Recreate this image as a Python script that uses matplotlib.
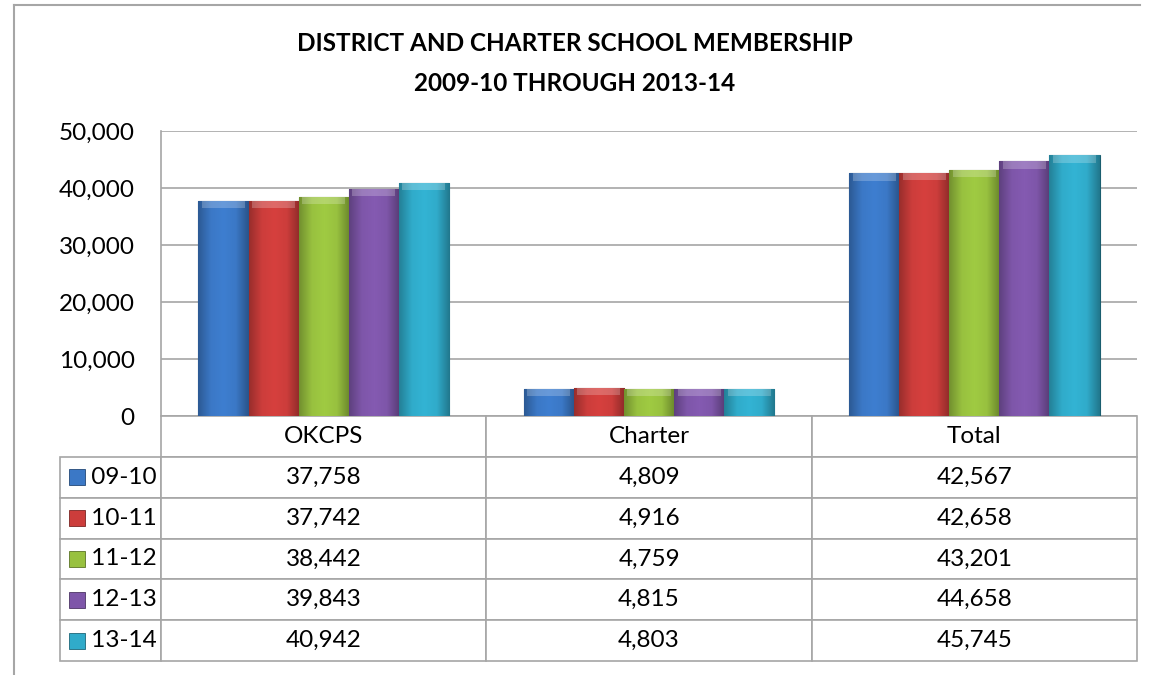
import numpy as np
import matplotlib
matplotlib.use('Agg')
import matplotlib.pyplot as plt
from matplotlib.lines import Line2D
from matplotlib.patches import Rectangle
from matplotlib.colors import LinearSegmentedColormap, to_rgb

plt.rcParams['font.family'] = ['Lato', 'DejaVu Sans']

categories = ['OKCPS', 'Charter', 'Total']
years = ['09-10', '10-11', '11-12', '12-13', '13-14']
okcps = [37758, 37742, 38442, 39843, 40942]
charter = [4809, 4916, 4759, 4815, 4803]
total = [42567, 42658, 43201, 44658, 45745]
colors = ['#3b78c6', '#cc3d3b', '#98c13f', '#7e56a9', '#30abca']

values = np.array([okcps, charter, total]).T  # rows = years


def shade(c, f):
    r = np.array(to_rgb(c))
    return tuple(np.clip(r * f, 0, 1))


fig = plt.figure(figsize=(11.53, 6.75), dpi=100)
ax = fig.add_axes([161/1153, 1 - 416/675, 976/1153, 285/675])

x = np.arange(len(categories))
w = 0.154
grad = np.linspace(0, 1, 64).reshape(1, -1)
for i, yr in enumerate(years):
    bars = ax.bar(x + (i - 2) * w, values[i], width=w, color=colors[i],
                  edgecolor=shade(colors[i], 0.55), linewidth=0.8, zorder=3)
    cmap = LinearSegmentedColormap.from_list(
        'b%d' % i, [shade(colors[i], 0.75), colors[i], shade(colors[i], 1.05),
                    colors[i], shade(colors[i], 0.7)])
    for b in bars:
        x0, h = b.get_x(), b.get_height()
        im = ax.imshow(grad, cmap=cmap, aspect='auto', zorder=3.5,
                       extent=[x0, x0 + w, 0, h])
        im.set_clip_path(b)
    # lighter bevel at the top of each bar
    ax.bar(x + (i - 2) * w, 1300, bottom=values[i] - 1300, width=w * 0.86,
           color='white', alpha=0.22, linewidth=0, zorder=4)

ax.set_xlim(-0.5, 2.5)
ax.set_ylim(0, 50000)
ax.set_yticks(range(0, 50001, 10000))
ax.set_yticklabels(['{:,}'.format(v) for v in range(0, 50001, 10000)])
ax.tick_params(axis='y', length=0, pad=19, labelsize=17.5)
ax.set_xticks([])
ax.grid(axis='y', color='#a6a6a6', linewidth=1.2, zorder=0)
for s in ['top', 'right', 'bottom']:
    ax.spines[s].set_visible(False)
ax.spines['left'].set_color('#a6a6a6')
ax.spines['left'].set_linewidth(1.2)

# data table under the chart
cell_text = [[''] + categories]
for i, yr in enumerate(years):
    cell_text.append(['     ' + yr] + ['{:,}'.format(v) for v in values[i]])
col_w = [101, 325, 325, 325]
tbl = ax.table(cellText=cell_text, colWidths=[c / sum(col_w) for c in col_w],
               cellLoc='center', bbox=[-101/976, -245/285, 1077/976, 245/285])
tbl.auto_set_font_size(False)
tbl.set_fontsize(17.5)
for (r, c), cell in tbl.get_celld().items():
    cell.set_edgecolor('#a6a6a6')
    cell.set_linewidth(1.2)
    if c == 0:
        cell.get_text().set_ha('left')
        cell.PAD = 0.0
tbl[0, 0].visible_edges = ''

# legend keys in the label column
key_y = [1 - (456 + 41 * i + 21) / 675 for i in range(len(years))]
for i in range(len(years)):
    fig.patches.append(Rectangle((69/1153, key_y[i] - 8/675), 16/1153, 16/675,
                                 transform=fig.transFigure, facecolor=colors[i],
                                 edgecolor=shade(colors[i], 0.6), linewidth=0.6))

fig.text(575/1153, 1 - 63.5/675,
         'DISTRICT AND CHARTER SCHOOL MEMBERSHIP\n2009-10 THROUGH 2013-14',
         ha='center', va='center', fontsize=17.5, fontweight='bold', linespacing=1.85)

# outer chart border
fig.lines.append(Line2D([14/1153, 14/1153], [0, 1 - 5/675], transform=fig.transFigure,
                        color='#a6a6a6', linewidth=1.5))
fig.lines.append(Line2D([14/1153, 1140/1153], [1 - 5/675, 1 - 5/675], transform=fig.transFigure,
                        color='#a6a6a6', linewidth=1.5))

fig.savefig('out.png', dpi=100)
